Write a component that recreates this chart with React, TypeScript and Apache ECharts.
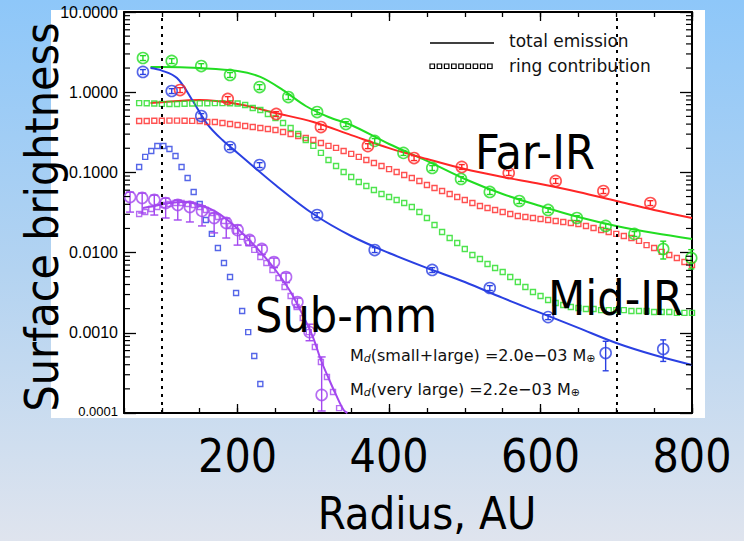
import { useEffect, useRef } from "react";
import * as echarts from "echarts";

// ---------- axes ----------
const X_MIN = 50;
const X_MAX = 800;
const X_STEP = 50;
const Y_MIN = 0.0001;
const Y_MAX = 10;
const xTickLabels = [200, 400, 600, 800];
const xMajorTicks = [200, 400, 600, 800];
const yMinorTicks = [
  0.0002, 0.0003, 0.0004, 0.0005, 0.0006, 0.0007, 0.0008, 0.0009,
  0.002, 0.003, 0.004, 0.005, 0.006, 0.007, 0.008, 0.009,
  0.02, 0.03, 0.04, 0.05, 0.06, 0.07, 0.08, 0.09,
  0.2, 0.3, 0.4, 0.5, 0.6, 0.7, 0.8, 0.9,
  2, 3, 4, 5, 6, 7, 8, 9,
];
const ringEdges = [100, 700];

// ---------- ring contribution radii ----------
const ringR = [
  70, 80, 90, 100, 110, 120, 130, 140, 150, 160, 170, 180, 190, 200, 210, 220, 230, 240, 250, 260,
  270, 280, 290, 300, 310, 320, 330, 340, 350, 360, 370, 380, 390, 400, 410, 420, 430, 440, 450, 460,
  470, 480, 490, 500, 510, 520, 530, 540, 550, 560, 570, 580, 590, 600, 610, 620, 630, 640, 650, 660,
  670, 680, 690, 700, 710, 720, 730, 740, 750, 760, 770, 780, 790, 800,
];
const smallR = [
  70, 78, 86, 94, 102, 110, 118, 126, 134, 142, 150, 158, 166, 174, 182, 190, 198, 206, 214, 222,
  230, 238, 246, 254, 262, 270, 278, 286, 294, 302, 310, 318, 326, 334,
];

// ---------- Far-IR (red) ----------
const redRingV = [
  0.437, 0.438, 0.44, 0.441, 0.442, 0.442, 0.441, 0.439, 0.437,
  0.425, 0.425, 0.413, 0.401, 0.39, 0.379, 0.368, 0.358, 0.348, 0.338, 0.319,
  0.301, 0.284, 0.269, 0.254, 0.233, 0.214, 0.202, 0.185, 0.17, 0.156,
  0.143, 0.131, 0.12, 0.11, 0.101, 0.0928, 0.0852, 0.0781, 0.0697, 0.0639,
  0.0586, 0.0538, 0.0493, 0.0453, 0.0415, 0.0381, 0.036, 0.034, 0.0321, 0.0303,
  0.0286, 0.0278, 0.027, 0.0262, 0.0255, 0.0248, 0.0241, 0.0234, 0.0227, 0.0215,
  0.0203, 0.0191, 0.0181, 0.0171, 0.0161, 0.0152, 0.014, 0.0124, 0.0114, 0.0102,
  0.00934, 0.00857, 0.00763, 0.00701,
];
const redLineR = [85, 100, 150, 200, 250, 300, 350, 400, 450, 500, 550, 600, 650, 700, 750, 800];
const redLineV = [0.733, 0.75, 0.8, 0.713, 0.551, 0.425, 0.292, 0.201, 0.147, 0.11, 0.0877, 0.0716, 0.057, 0.044, 0.034, 0.027];
const redPtR = [124, 187, 251, 310, 372, 433, 496, 558, 620, 683, 745];
const redPtV = [1.064, 0.823, 0.535, 0.368, 0.213, 0.151, 0.117, 0.0984, 0.0782, 0.0586, 0.0415];
const redPtErr = [0.07, 0.07, 0.07, 0.07, 0.07, 0.07, 0.07, 0.07, 0.07, 0.07, 0.07];

// ---------- Mid-IR (green) ----------
const greenRingV = [
  0.73, 0.728, 0.722, 0.716, 0.714, 0.714, 0.717, 0.722, 0.726,
  0.728, 0.73, 0.73, 0.728, 0.722, 0.692, 0.635, 0.6, 0.535, 0.477, 0.413,
  0.358, 0.301, 0.254, 0.214, 0.175, 0.143, 0.12, 0.101, 0.0877, 0.0759,
  0.0677, 0.0603, 0.0538, 0.0493, 0.0453, 0.0415, 0.037, 0.0321, 0.027, 0.0221,
  0.0181, 0.0152, 0.0132, 0.0111, 0.00934, 0.00832, 0.00721, 0.00643, 0.00573, 0.00496,
  0.0043, 0.00372, 0.00323, 0.00288, 0.00256, 0.00235, 0.00222, 0.0021, 0.00204, 0.00198,
  0.00198, 0.00192, 0.00192, 0.00192, 0.00192, 0.00187, 0.00187, 0.00187, 0.00182, 0.00182,
  0.00182, 0.00177, 0.00177, 0.00177,
];
const greenLineR = [85, 100, 150, 200, 230, 260, 290, 320, 350, 400, 450, 500, 550, 600, 650, 700, 750, 800];
const greenLineV = [2.06, 2.06, 2.0, 1.84, 1.55, 1.06, 0.673, 0.491, 0.39, 0.226, 0.139, 0.0828, 0.0538, 0.0381, 0.0278, 0.0215, 0.0175, 0.0148];
const greenPtR = [75, 113, 152, 190, 229, 267, 305, 343, 381, 419, 457, 495, 533, 572, 610, 648, 686, 724, 762, 799];
const greenPtV = [2.67, 2.45, 2.12, 1.64, 1.16, 0.871, 0.566, 0.401, 0.247, 0.175, 0.1135, 0.0828, 0.057, 0.044, 0.034, 0.027, 0.0215, 0.0171, 0.0111, 0.00857];
const greenPtErr = [0.07, 0.07, 0.07, 0.07, 0.07, 0.07, 0.07, 0.07, 0.07, 0.07, 0.07, 0.07, 0.07, 0.07, 0.07, 0.07, 0.07, 0.07, 0.25, 0.27];

// ---------- small grains (blue) ----------
const blueRingV = [
  0.117, 0.156, 0.185, 0.213, 0.213, 0.196, 0.16, 0.117, 0.0851, 0.057, 0.0404,
  0.0255, 0.0171, 0.0114, 0.00741, 0.00496, 0.00313, 0.00187, 0.00102, 0.000514, 0.00023,
];
const blueLineR = [85, 100, 120, 140, 160, 180, 200, 250, 300, 350, 400, 450, 500, 550, 600, 650, 700, 750, 800];
const blueLineV = [2.0, 1.86, 1.5, 0.8, 0.401, 0.253, 0.175, 0.0697, 0.0303, 0.0161, 0.00989, 0.00643, 0.0043, 0.00272, 0.00177, 0.00115, 0.000746, 0.000528, 0.000397];
const bluePtR = [75, 113, 152, 190, 229, 305, 381, 457, 533, 610, 686, 762];
const bluePtV = [1.79, 1.035, 0.505, 0.207, 0.1236, 0.0294, 0.01077, 0.00607, 0.00362, 0.00157, 0.00056, 0.000628];
const bluePtErr = [0.07, 0.07, 0.07, 0.07, 0.07, 0.07, 0.07, 0.07, 0.07, 0.07, 0.4, 0.3];

// ---------- Sub-mm (purple) ----------
const purpleRingV = [
  0.0303, 0.0321, 0.035, 0.0371, 0.0393, 0.0404, 0.0415, 0.0415, 0.0404, 0.0393,
  0.0371, 0.034, 0.0312, 0.0278, 0.0248, 0.0215, 0.0186, 0.0157, 0.0132, 0.0108,
  0.00881, 0.00741, 0.00607, 0.00482, 0.00372, 0.00288, 0.0021, 0.00153, 0.00102, 0.000665,
  0.000433, 0.000281, 0.000183, 0.000115,
];
const purpleLineR = [75, 90, 110, 130, 150, 170, 190, 210, 230, 250, 270, 290, 300, 310, 320, 330, 340, 345];
const purpleLineV = [0.036, 0.0381, 0.0415, 0.0428, 0.0393, 0.033, 0.0241, 0.0161, 0.0102, 0.00607, 0.00323, 0.0014, 0.000861, 0.000458, 0.000273, 0.000168, 0.000109, 0.0001];
const purplePtR = [58, 74, 90, 105, 121, 137, 153, 169, 185, 200, 216, 232, 248, 264, 279, 295, 311];
const purplePtV = [0.0493, 0.048, 0.0453, 0.0415, 0.0393, 0.0371, 0.0331, 0.027, 0.0234, 0.0191, 0.0144, 0.0111, 0.00763, 0.00496, 0.00242, 0.00102, 0.000168];
const purplePtLo = [0.032, 0.0312, 0.0294, 0.027, 0.0255, 0.0241, 0.0215, 0.0176, 0.0152, 0.0124, 0.0122, 0.00944, 0.00649, 0.00422, 0.00206, 0.000796, 0.000106];
const purplePtHi = [0.0567, 0.0552, 0.0521, 0.0477, 0.0452, 0.0427, 0.0381, 0.0311, 0.0269, 0.022, 0.0161, 0.0124, 0.00855, 0.00556, 0.00271, 0.00128, 0.0005];

// ---------- colours / fonts ----------
const GREEN = "#22dd22";
const RED = "#ff2626";
const BLUE = "#2a40e2";
const PURPLE = "#a347ef";
const SLIDE_FONT = "'DejaVu Sans Condensed', 'DejaVu Sans', sans-serif";
const PLOT_FONT = "'DejaVu Sans', sans-serif";
const TICK_FONT = "'Liberation Sans', Arial, sans-serif";

const zip = (a: number[], b: number[]) => b.map((v, i) => [a[i], v]);

function lineSeries(r: number[], v: number[], color: string, extra: any = {}) {
  return {
    type: "line",
    data: zip(r, v),
    showSymbol: false,
    smooth: 0.35,
    lineStyle: { color, width: 2 },
    z: 3,
    silent: true,
    ...extra,
  };
}

function squareSeries(r: number[], v: number[], color: string) {
  return {
    type: "scatter",
    data: zip(r, v),
    symbol: "rect",
    symbolSize: 5,
    itemStyle: { color: "rgba(0,0,0,0)", borderColor: color, borderWidth: 1.4 },
    z: 4,
    silent: true,
  };
}

function circleSeries(r: number[], v: number[], color: string) {
  return {
    type: "scatter",
    data: zip(r, v),
    symbol: "circle",
    symbolSize: 11,
    itemStyle: { color: "rgba(0,0,0,0)", borderColor: color, borderWidth: 1.6 },
    z: 5,
    silent: true,
  };
}

function errorSeries(rows: number[][], color: string, cap: number) {
  return {
    type: "custom",
    data: rows,
    encode: { x: 0, y: [1, 2] },
    z: 5,
    silent: true,
    renderItem: (_p: any, api: any) => {
      const x = api.value(0);
      const lo = api.coord([x, api.value(1)]);
      const hi = api.coord([x, api.value(2)]);
      const style = { stroke: color, lineWidth: 1.4, fill: "none" };
      return {
        type: "group",
        children: [
          { type: "line", shape: { x1: lo[0], y1: lo[1], x2: hi[0], y2: hi[1] }, style },
          { type: "line", shape: { x1: lo[0] - cap, y1: lo[1], x2: lo[0] + cap, y2: lo[1] }, style },
          { type: "line", shape: { x1: hi[0] - cap, y1: hi[1], x2: hi[0] + cap, y2: hi[1] }, style },
        ],
      };
    },
  };
}

const relRows = (r: number[], v: number[], e: number[]) =>
  r.map((x, i) => [x, v[i] * (1 - e[i]), v[i] * (1 + e[i])]);

export default function App() {
  const ref = useRef<HTMLDivElement>(null);

  useEffect(() => {
    if (!ref.current) return;
    const chart = echarts.init(ref.current, undefined, { renderer: "svg" });
    const black = { color: "#000", width: 2 };
    const tickStyle = { color: "#000", width: 1.3 };

    const legendSquares = Array.from({ length: 9 }, (_, i) => ({
      type: "rect",
      shape: { x: 430 + i * 7.2, y: 64, width: 4.5, height: 4.5 },
      style: { fill: "none", stroke: "#000", lineWidth: 1.2 },
      z: 50,
    }));

    const bigText = (text: string, x: number, y: number, size: number, extra: any = {}) => ({
      type: "text",
      x,
      y,
      z: 100,
      ...extra,
      style: {
        text,
        fontSize: size,
        fontFamily: SLIDE_FONT,
        fill: "#000",
        align: extra.align || "left",
        textAlign: extra.align || "left",
        verticalAlign: "middle",
        textVerticalAlign: "middle",
      },
    });

    const massRich = {
      m: { fontSize: 16, fontFamily: PLOT_FONT, fill: "#111", color: "#111" },
      d: { fontSize: 11, fontFamily: PLOT_FONT, fontStyle: "italic", fill: "#111", color: "#111", padding: [6, 0, 0, 0] },
      e: { fontSize: 11, fontFamily: PLOT_FONT, fill: "#111", color: "#111", padding: [6, 0, 0, 0] },
    };

    const option: any = {
      animation: false,
      backgroundColor: new echarts.graphic.LinearGradient(0, 0, 0, 1, [
        { offset: 0, color: "#8ec7f9" },
        { offset: 0.5, color: "#b3d3f1" },
        { offset: 1, color: "#dfe4ee" },
      ]),
      grid: { left: 124, top: 12, right: 52, bottom: 128 },
      xAxis: [
        {
          type: "value", position: "bottom", min: X_MIN, max: X_MAX, interval: X_STEP,
          axisLine: { show: true, onZero: false, lineStyle: black },
          axisTick: { show: true, inside: true, length: 5, lineStyle: tickStyle },
          axisLabel: { customValues: xTickLabels, fontSize: 46, fontFamily: SLIDE_FONT, color: "#000", margin: 20 },
          splitLine: { show: false },
        },
        {
          type: "value", position: "bottom", min: X_MIN, max: X_MAX,
          axisLine: { show: false },
          axisTick: { show: true, inside: true, length: 9, customValues: xMajorTicks, lineStyle: tickStyle },
          axisLabel: { show: false },
          splitLine: { show: false },
        },
        {
          type: "value", position: "top", min: X_MIN, max: X_MAX, interval: X_STEP,
          axisLine: { show: true, onZero: false, lineStyle: black },
          axisTick: { show: true, inside: true, length: 5, lineStyle: tickStyle },
          axisLabel: { show: false },
          splitLine: { show: false },
        },
        {
          type: "value", position: "top", min: X_MIN, max: X_MAX,
          axisLine: { show: false },
          axisTick: { show: true, inside: true, length: 9, customValues: xMajorTicks, lineStyle: tickStyle },
          axisLabel: { show: false },
          splitLine: { show: false },
        },
      ],
      yAxis: [
        {
          type: "log", logBase: 10, min: Y_MIN, max: Y_MAX, splitNumber: 5, position: "left",
          axisLine: { show: true, onZero: false, lineStyle: black },
          axisTick: { show: true, inside: true, length: 12, lineStyle: tickStyle },
          axisLabel: {
            color: "#000", fontSize: 16, fontFamily: TICK_FONT, margin: 6,
            formatter: (v: number) => (v < 0.0005 ? `{s|${v.toFixed(4)}}` : v.toFixed(4)),
            rich: { s: { fontSize: 13, fontFamily: TICK_FONT, color: "#000", padding: [0, 0, 4, 0] } },
          },
          splitLine: { show: false },
        },
        {
          type: "log", logBase: 10, min: Y_MIN, max: Y_MAX, splitNumber: 5, position: "right",
          axisLine: { show: true, onZero: false, lineStyle: black },
          axisTick: { show: true, inside: true, length: 12, lineStyle: tickStyle },
          axisLabel: { show: false },
          splitLine: { show: false },
        },
      ],
      series: [
        // minor log ticks on both vertical edges
        {
          type: "custom",
          data: yMinorTicks.map((v) => [X_MIN, v]),
          encode: { x: 0, y: 1 },
          silent: true,
          z: 6,
          renderItem: (_p: any, api: any) => {
            const v = api.value(1);
            const l = api.coord([X_MIN, v]);
            const r = api.coord([X_MAX, v]);
            const st = { stroke: "#000", lineWidth: 1.2 };
            return {
              type: "group",
              children: [
                { type: "line", shape: { x1: l[0], y1: l[1], x2: l[0] + 6, y2: l[1] }, style: st },
                { type: "line", shape: { x1: r[0] - 6, y1: r[1], x2: r[0], y2: r[1] }, style: st },
              ],
            };
          },
        },
        lineSeries(greenLineR, greenLineV, GREEN, {
          markLine: {
            silent: true,
            symbol: ["none", "none"],
            label: { show: false },
            lineStyle: { color: "#000", type: [3, 5], width: 2 },
            data: ringEdges.map((x) => ({ xAxis: x })),
          },
        }),
        lineSeries(redLineR, redLineV, RED),
        lineSeries(blueLineR, blueLineV, BLUE),
        lineSeries(purpleLineR, purpleLineV, PURPLE),
        squareSeries(ringR, redRingV, RED),
        squareSeries(ringR, greenRingV, GREEN),
        squareSeries(smallR, blueRingV, BLUE),
        squareSeries(smallR, purpleRingV, PURPLE),
        errorSeries(relRows(greenPtR, greenPtV, greenPtErr), GREEN, 3),
        errorSeries(relRows(redPtR, redPtV, redPtErr), RED, 3),
        errorSeries(relRows(bluePtR, bluePtV, bluePtErr), BLUE, 3),
        errorSeries(purplePtR.map((x, i) => [x, purplePtLo[i], purplePtHi[i]]), PURPLE, 4),
        circleSeries(greenPtR, greenPtV, GREEN),
        circleSeries(redPtR, redPtV, RED),
        circleSeries(bluePtR, bluePtV, BLUE),
        circleSeries(purplePtR, purplePtV, PURPLE),
      ],
      graphic: [
        { type: "rect", z: -1, shape: { x: 51, y: 10, width: 654, height: 408 }, style: { fill: "#ffffff" } },
        { type: "line", z: 50, shape: { x1: 430, y1: 43, x2: 494, y2: 43 }, style: { stroke: "#000", lineWidth: 1.5 } },
        ...legendSquares,
        {
          type: "text", x: 509, y: 41, z: 50,
          style: { text: "total emission", fontSize: 17, fontFamily: PLOT_FONT, fill: "#111", verticalAlign: "middle", textVerticalAlign: "middle" },
        },
        {
          type: "text", x: 509, y: 66, z: 50,
          style: { text: "ring contribution", fontSize: 17, fontFamily: PLOT_FONT, fill: "#111", verticalAlign: "middle", textVerticalAlign: "middle" },
        },
        {
          type: "text", x: 350, y: 355, z: 50,
          style: { text: "{m|M}{d|d}{m|(small+large) =2.0e−03 M}{e|⊕}", rich: massRich, verticalAlign: "middle", textVerticalAlign: "middle" },
        },
        {
          type: "text", x: 350, y: 389, z: 50,
          style: { text: "{m|M}{d|d}{m|(very large) =2.2e−03 M}{e|⊕}", rich: massRich, verticalAlign: "middle", textVerticalAlign: "middle" },
        },
        bigText("Far-IR", 475, 152, 48),
        bigText("Mid-IR", 548, 298, 48),
        bigText("Sub-mm", 255, 315, 48),
        bigText("Radius, AU", 427, 513, 45, { align: "center" }),
        bigText("Surface brightness", 42, 217, 46, { align: "center", rotation: Math.PI / 2 }),
      ],
    };

    chart.setOption(option);
    return () => chart.dispose();
  }, []);

  return (
    <div
      ref={ref}
      style={{ position: "fixed", left: 0, top: 0, width: 744, height: 541 }}
    />
  );
}
